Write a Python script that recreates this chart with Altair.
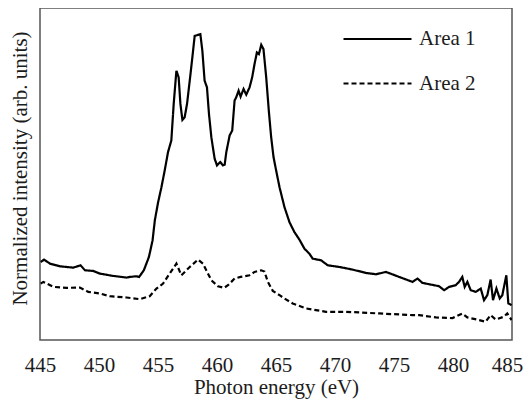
import altair as alt
import pandas as pd

# Area 1 (solid): photon energy (eV) and normalized intensity (0 = bottom of frame, 1 = top)
energy1 = [445.06, 445.34, 445.85, 446.69, 447.82, 448.44, 448.81, 449.51, 450.07, 451.20,
           452.33, 452.61, 453.18, 453.40, 453.80, 454.23, 454.54, 454.73, 455.01, 455.29,
           455.57, 455.85, 456.13, 456.33, 456.56, 456.75, 456.90, 457.07, 457.26, 457.46,
           457.69, 457.91, 458.11, 458.39, 458.59, 458.76, 458.95, 459.15, 459.32, 459.52,
           459.80, 460.00, 460.28, 460.50, 460.65, 460.79, 461.07, 461.29, 461.49, 461.63,
           461.83, 462.00, 462.25, 462.48, 462.76, 462.98, 463.18, 463.38, 463.55, 463.75,
           463.94, 464.17, 464.39, 464.59, 464.79, 465.01, 465.30, 465.72, 466.14, 466.56,
           466.99, 467.41, 467.83, 468.11, 468.82, 469.38, 470.37, 471.50, 472.62, 473.47,
           474.32, 475.44, 476.57, 476.99, 477.41, 477.98, 478.82, 479.25, 479.67, 480.23,
           480.51, 480.79, 480.99, 481.22, 481.50, 481.93, 482.35, 482.63, 482.91, 483.19,
           483.39, 483.68, 483.96, 484.18, 484.52, 484.69, 484.97]
area1 = [0.235, 0.242, 0.230, 0.222, 0.218, 0.225, 0.210, 0.208, 0.200, 0.193,
         0.188, 0.190, 0.192, 0.190, 0.210, 0.250, 0.300, 0.360, 0.415, 0.460,
         0.511, 0.566, 0.601, 0.711, 0.811, 0.791, 0.711, 0.663, 0.671, 0.711,
         0.781, 0.851, 0.916, 0.919, 0.921, 0.871, 0.781, 0.761, 0.681, 0.611,
         0.546, 0.526, 0.536, 0.526, 0.528, 0.566, 0.616, 0.631, 0.721, 0.731,
         0.751, 0.733, 0.756, 0.739, 0.761, 0.791, 0.831, 0.866, 0.861, 0.889,
         0.876, 0.791, 0.691, 0.611, 0.551, 0.511, 0.460, 0.400, 0.355, 0.325,
         0.302, 0.275, 0.260, 0.245, 0.240, 0.225, 0.220, 0.212, 0.202, 0.198,
         0.205, 0.190, 0.175, 0.185, 0.172, 0.168, 0.162, 0.150, 0.160, 0.165,
         0.175, 0.190, 0.160, 0.175, 0.150, 0.145, 0.155, 0.120, 0.135, 0.182,
         0.120, 0.155, 0.125, 0.135, 0.195, 0.110, 0.105]

# Area 2 (dashed)
energy2 = [445.06, 445.28, 446.13, 447.25, 448.38, 449.09, 450.07, 450.92, 452.33, 453.46,
           454.30, 454.87, 455.43, 455.99, 456.56, 456.98, 457.69, 458.39, 458.81, 459.52,
           460.08, 460.60, 460.93, 461.49, 462.00, 462.76, 463.18, 463.75, 464.02, 464.31,
           464.73, 465.30, 465.72, 466.42, 467.55, 469.24, 470.93, 473.75, 476.57, 477.14,
           478.55, 479.96, 480.79, 481.22, 482.21, 482.77, 483.19, 483.61, 484.32, 484.60,
           484.97]
area2 = [0.170, 0.175, 0.160, 0.157, 0.158, 0.145, 0.140, 0.132, 0.128, 0.123,
         0.132, 0.155, 0.170, 0.200, 0.230, 0.195, 0.220, 0.242, 0.230, 0.180,
         0.162, 0.157, 0.165, 0.185, 0.190, 0.195, 0.205, 0.210, 0.206, 0.175,
         0.148, 0.135, 0.125, 0.110, 0.095, 0.085, 0.085, 0.080, 0.075, 0.075,
         0.068, 0.066, 0.080, 0.068, 0.060, 0.055, 0.075, 0.062, 0.070, 0.080,
         0.060]

series_names = ["Area 1", "Area 2"]
x_ticks = [445, 450, 455, 460, 465, 470, 475, 480, 485]

df = pd.concat([
    pd.DataFrame({"energy": energy1, "intensity": area1, "series": series_names[0]}),
    pd.DataFrame({"energy": energy2, "intensity": area2, "series": series_names[1]}),
])

FONT = "Liberation Serif"
TXT = "#1c1c1c"

chart = alt.Chart(df).mark_line(color="black", strokeWidth=2.2, clip=True).encode(
    x=alt.X("energy:Q",
            scale=alt.Scale(domain=[445, 485], nice=False, zero=False),
            axis=alt.Axis(values=x_ticks, title="Photon energy (eV)", ticks=False,
                          domain=False, grid=False, labelPadding=14, titlePadding=1,
                          labelOffset={"condition": {"test": "datum.value == 485", "value": -5},
                                       "value": 0},
                          labelFont=FONT, labelFontSize=21, labelColor=TXT,
                          titleFont=FONT, titleFontSize=21, titleFontWeight="normal",
                          titleColor=TXT, labelFlush=False)),
    y=alt.Y("intensity:Q",
            scale=alt.Scale(domain=[0, 1], nice=False),
            axis=alt.Axis(title="Normalized intensity (arb. units)", labels=False, ticks=False,
                          domain=False, grid=False, titlePadding=10, titleY=160,
                          titleFont=FONT, titleFontSize=21, titleFontWeight="normal",
                          titleColor=TXT)),
    strokeDash=alt.StrokeDash("series:N",
                              scale=alt.Scale(domain=series_names, range=[[1, 0], [5, 3]]),
                              legend=alt.Legend(title=None, orient="none", legendX=302, legendY=21,
                                                symbolType="stroke", symbolSize=4624,
                                                symbolStrokeWidth=2.2, symbolStrokeColor="black",
                                                clipHeight=20, rowPadding=23.5, labelOffset=6,
                                                padding=0, labelFont=FONT, labelFontSize=21,
                                                labelColor=TXT)),
    detail="series:N",
).properties(
    width=472, height=332,
    autosize=alt.AutoSizeParams(type="none"),
    padding={"left": 32, "top": 0, "right": 12, "bottom": 59},
).configure_view(stroke="#555", strokeWidth=1.5)

chart.save("out.html", embed_options={"renderer": "svg", "actions": False})
